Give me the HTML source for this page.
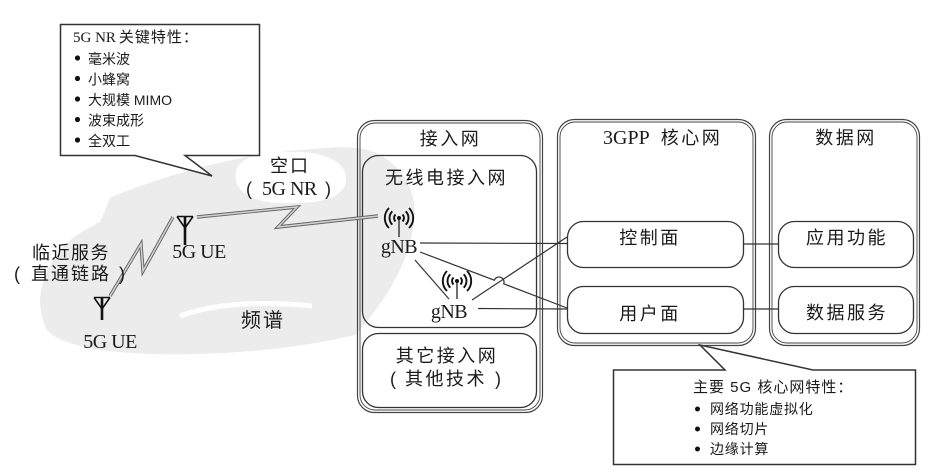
<!DOCTYPE html>
<html><head><meta charset="utf-8">
<style>
html,body{margin:0;padding:0;background:#fff;}
body{width:931px;height:473px;overflow:hidden;}
svg{display:block;}
.cj{font-family:"Liberation Sans","Noto Sans CJK SC",sans-serif;fill:#1a1a1a;}
.sf{font-family:"Liberation Serif","Noto Sans CJK SC",serif;fill:#1a1a1a;}
</style></head>
<body>
<svg width="931" height="473" viewBox="0 0 931 473" xmlns="http://www.w3.org/2000/svg">
<!-- background watermark blob -->
<path d="M40,300 C42,270 60,240 95,225 L105,200 C150,180 230,155 300,150 C340,146 365,145 382,156 C405,170 418,195 414,222 C410,262 385,302 355,335 C300,348 230,356 150,354 C100,352 60,345 47,330 C42,320 40,310 40,300 Z" fill="#ececec"/>
<path d="M236,172 C238,158 262,150 290,152 C318,150 346,160 346,178 C348,196 322,204 292,203 C262,205 232,196 236,172 Z" fill="#fff"/>
<path d="M180,316 Q230,298 312,306" stroke="#fff" stroke-width="5" fill="none"/>
<path d="M75,205 L110,198 L100,222 L80,228 Z" fill="#fff"/>

<!-- outer boxes (double lines) -->
<g fill="none" stroke="#444">
<rect x="357.5" y="120.5" width="185" height="292" rx="17" stroke-width="1.2"/>
<rect x="360" y="123" width="180" height="287" rx="15" stroke-width="0.9"/>
<rect x="557.5" y="119.5" width="198" height="226" rx="17" stroke-width="1.2"/>
<rect x="560" y="122" width="193" height="221" rx="15" stroke-width="0.9"/>
<rect x="769.5" y="119.5" width="150" height="226" rx="17" stroke-width="1.2"/>
<rect x="772" y="122" width="145" height="221" rx="15" stroke-width="0.9"/>
</g>
<!-- inner boxes -->
<g fill="none" stroke="#333" stroke-width="1.3">
<rect x="362.5" y="155.5" width="174" height="172" rx="16"/>
<rect x="362.5" y="333.5" width="174" height="74" rx="16"/>
<rect x="567.5" y="221.5" width="176" height="46" rx="16"/>
<rect x="567.5" y="286.5" width="176" height="47" rx="16"/>
<rect x="778.5" y="221.5" width="135" height="46" rx="16"/>
<rect x="778.5" y="286.5" width="135" height="47" rx="16"/>
</g>

<!-- connectors -->
<g fill="none" stroke="#333" stroke-width="1.2">
<line x1="420" y1="243" x2="567" y2="243.5"/>
<path d="M420,252 L494.3,280.2 A5,5 0 0 1 503.7,283.8 L567,308"/>
<line x1="472" y1="300" x2="567" y2="237"/>
<line x1="478" y1="308.5" x2="567" y2="309"/>
<line x1="415" y1="260" x2="449" y2="299"/>
<line x1="743" y1="244" x2="778" y2="244"/>
<line x1="743" y1="309" x2="778" y2="309"/>
</g>

<!-- bolts -->
<g fill="none" stroke-linejoin="miter">
<polyline points="197,217 297,207 278,227 378,216" stroke="#666" stroke-width="3.4"/>
<polyline points="197,217 297,207 278,227 378,216" stroke="#d2d2d2" stroke-width="1.5"/>
<polyline points="110,296 141,244 143,271 173,217" stroke="#666" stroke-width="3.4"/>
<polyline points="110,296 141,244 143,271 173,217" stroke="#d2d2d2" stroke-width="1.5"/>
</g>

<!-- UE antennas -->
<g stroke="#111" fill="none">
<path d="M177,216.5 H193 M177,216.5 L185,228 L193,216.5" stroke-width="1.6"/>
<line x1="185" y1="216" x2="185" y2="245" stroke-width="2.6"/>
<path d="M94,297.5 H110 M94,297.5 L102,309 L110,297.5" stroke-width="1.6"/>
<line x1="102" y1="297" x2="102" y2="320" stroke-width="2.6"/>
</g>

<!-- gNB icons -->
<g stroke="#111" fill="none" stroke-width="1.9">
<g transform="translate(399,218)">
<path d="M-3.5,-3.5 A5,5 0 0 0 -3.5,3.5 M-6.7,-6.7 A9.5,9.5 0 0 0 -6.7,6.7 M-10,-10 A14,14 0 0 0 -10,10"/>
<path d="M3.5,-3.5 A5,5 0 0 1 3.5,3.5 M6.7,-6.7 A9.5,9.5 0 0 1 6.7,6.7 M10,-10 A14,14 0 0 1 10,10"/>
<line x1="0" y1="0" x2="0" y2="19" stroke-width="1.2"/>
<circle cx="0" cy="0" r="2" fill="#111" stroke="none"/>
</g>
<g transform="translate(457,281)">
<path d="M-3.5,-3.5 A5,5 0 0 0 -3.5,3.5 M-6.7,-6.7 A9.5,9.5 0 0 0 -6.7,6.7 M-10,-10 A14,14 0 0 0 -10,10"/>
<path d="M3.5,-3.5 A5,5 0 0 1 3.5,3.5 M6.7,-6.7 A9.5,9.5 0 0 1 6.7,6.7 M10,-10 A14,14 0 0 1 10,10"/>
<line x1="0" y1="0" x2="0" y2="18" stroke-width="1.2"/>
<circle cx="0" cy="0" r="2" fill="#111" stroke="none"/>
</g>
</g>

<!-- callouts -->
<path d="M60.5,24.5 H259.5 V155.5 H185 L212,176 L135,155.5 H60.5 Z" fill="#fff" stroke="#333" stroke-width="1.5"/>
<path d="M613.5,370 H725 L700,345 L813,370 H915.5 V464.5 H613.5 Z" fill="#fff" stroke="#333" stroke-width="1.5"/>

<!-- callout 1 text -->
<text x="73" y="42" font-size="15"><tspan class="sf">5G NR</tspan><tspan class="cj" dx="3" letter-spacing="1">关键特性：</tspan></text>
<g fill="#111">
<circle cx="77.5" cy="58" r="2.6"/><circle cx="77.5" cy="78.5" r="2.6"/><circle cx="77.5" cy="99" r="2.6"/><circle cx="77.5" cy="119.5" r="2.6"/><circle cx="77.5" cy="140" r="2.6"/>
</g>
<g class="cj" font-size="14">
<text x="88" y="64">毫米波</text>
<text x="88" y="84.5">小蜂窝</text>
<text x="88" y="105">大规模 MIMO</text>
<text x="88" y="125.5">波束成形</text>
<text x="88" y="146">全双工</text>
</g>

<!-- callout 2 text -->
<text class="cj" x="693" y="392" font-size="15" letter-spacing="1">主要 5G 核心网特性：</text>
<g fill="#111">
<circle cx="697.5" cy="409" r="2.5"/><circle cx="697.5" cy="429" r="2.5"/><circle cx="697.5" cy="449" r="2.5"/>
</g>
<g class="cj" font-size="14" letter-spacing="0.8">
<text x="710" y="414">网络功能虚拟化</text>
<text x="710" y="434">网络切片</text>
<text x="710" y="454">边缘计算</text>
</g>

<!-- main labels -->
<g class="cj" font-size="18" letter-spacing="2.5" text-anchor="middle">
<text x="450.5" y="145">接入网</text>
<text x="446.5" y="184">无线电接入网</text>
<text x="447" y="362">其它接入网</text>
<text x="846" y="144">数据网</text>
<text x="650" y="244">控制面</text>
<text x="650" y="320">用户面</text>
<text x="847" y="244">应用功能</text>
<text x="847" y="319">数据服务</text>
</g>
<text class="cj" font-size="18" y="385"><tspan x="390">(</tspan><tspan x="405" letter-spacing="2.5">其他技术</tspan><tspan x="495">)</tspan></text>
<text x="603" y="144" font-size="20"><tspan class="sf">3GPP</tspan><tspan class="cj" dx="11" font-size="18" letter-spacing="2.5">核心网</tspan></text>

<!-- left labels -->
<text class="cj" x="290" y="172" font-size="18" letter-spacing="2" text-anchor="middle">空口</text>
<text class="cj" font-size="18" y="195"><tspan x="246">(</tspan></text>
<text class="sf" font-size="20" x="262" y="195" letter-spacing="-0.5">5G NR</text>
<text class="cj" font-size="18" y="195"><tspan x="325">)</tspan></text>
<text class="cj" x="71" y="259" font-size="18" letter-spacing="1.5" text-anchor="middle">临近服务</text>
<text class="cj" font-size="18" y="280"><tspan x="14">(</tspan><tspan x="31" letter-spacing="2">直通链路</tspan><tspan x="119">)</tspan></text>
<text class="cj" x="263" y="327" font-size="20" letter-spacing="2" text-anchor="middle">频谱</text>

<g class="sf" font-size="20" text-anchor="middle" letter-spacing="-0.5">
<text x="199" y="258">5G UE</text>
<text x="110" y="348">5G UE</text>
<text x="399" y="253">gNB</text>
<text x="449" y="318">gNB</text>
</g>
</svg>
</body></html>
